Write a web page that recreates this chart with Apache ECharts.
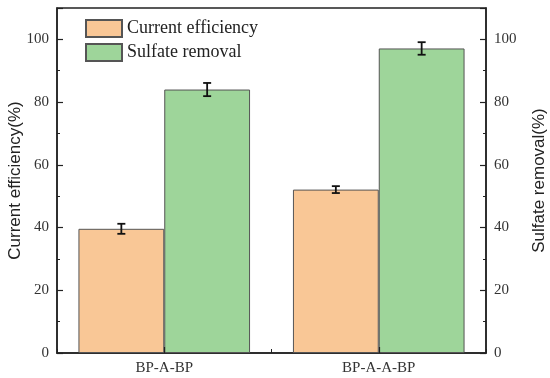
<!DOCTYPE html>
<html><head><meta charset="utf-8">
<script src="https://cdn.jsdelivr.net/npm/echarts@6/dist/echarts.min.js"></script>
<style>html,body{margin:0;padding:0;background:#fff}#c{width:550px;height:378px}</style>
</head><body><div id="c"></div>
<script>
var categories = ['BP-A-BP', 'BP-A-A-BP'];
var seriesNames = ['Current efficiency', 'Sulfate removal'];
var currentEff = [39.6, 52.1];
var currentErr = [1.6, 1.1];
var sulfate = [84.0, 97.1];
var sulfateErr = [2.1, 2.0];
var yTicks = [0, 20, 40, 60, 80, 100];

var serif = 'Liberation Serif';
var chart = echarts.init(document.getElementById('c'));

function errSeries(vals, errs, idx) {
  return {
    type: 'custom',
    xAxisIndex: 0, yAxisIndex: 0,
    silent: true,
    z: 10,
    data: vals.map(function (v, i) { return [i, v - errs[i], v + errs[i]]; }),
    renderItem: function (params, api) {
      var cat = api.value(0);
      var lo = api.coord([cat, api.value(1)]);
      var hi = api.coord([cat, api.value(2)]);
      var bw = api.size([1, 0])[0] * 0.8 / 2;
      var x = lo[0] + (idx === 0 ? -bw / 2 : bw / 2);
      var cap = 4;
      var st = { stroke: '#111', lineWidth: 1.8 };
      return { type: 'group', children: [
        { type: 'line', shape: { x1: x, y1: lo[1], x2: x, y2: hi[1] }, style: st },
        { type: 'line', shape: { x1: x - cap, y1: lo[1], x2: x + cap, y2: lo[1] }, style: st },
        { type: 'line', shape: { x1: x - cap, y1: hi[1], x2: x + cap, y2: hi[1] }, style: st }
      ]};
    }
  };
}

var yAxisCommon = {
  type: 'value', min: 0, max: 110, interval: 20,
  axisLine: { show: true, lineStyle: { color: '#222', width: 1.5 } },
  axisTick: { show: true, inside: true, length: 6, lineStyle: { color: '#222', width: 1.2 } },
  minorTick: { show: true, splitNumber: 2, length: 3, lineStyle: { color: '#222' } },
  splitLine: { show: false },
  axisLabel: { fontFamily: serif, fontSize: 15, color: '#333', margin: 8, showMaxLabel: false,
    formatter: function (v) { return yTicks.indexOf(v) >= 0 ? String(v) : ''; } },
  nameLocation: 'middle',
  nameMoveOverlap: false,
  nameTextStyle: { fontFamily: 'Liberation Sans', fontSize: 17, color: '#222' }
};

chart.setOption({
  animation: false,
  grid: { left: 57, right: 64, top: 8, bottom: 25, show: true, borderColor: '#222', borderWidth: 1.5,
    containLabel: false, outerBoundsMode: 'none' },
  legend: {
    orient: 'vertical', left: 80, top: 14, itemWidth: 36, itemHeight: 17, itemGap: 5, icon: 'rect',
    textStyle: { fontFamily: serif, fontSize: 18, color: '#222' },
    data: seriesNames
  },
  xAxis: [
    { type: 'category', data: categories, position: 'bottom',
      axisLine: { lineStyle: { color: '#222', width: 1.5 } },
      axisTick: { show: true, inside: true, length: 4, lineStyle: { color: '#222' } },
      axisLabel: { fontFamily: serif, fontSize: 15, color: '#333', margin: 8 } },
    { type: 'category', data: categories, position: 'bottom', gridIndex: 0, z: 6,
      axisLine: { show: false },
      axisTick: { show: true, inside: true, alignWithLabel: true, length: 6, lineStyle: { color: '#222', width: 1.2 } },
      axisLabel: { show: false } }
  ],
  yAxis: [
    Object.assign({}, yAxisCommon, { position: 'left', name: 'Current efficiency(%)', nameGap: 33 }),
    Object.assign({}, yAxisCommon, { position: 'right', name: 'Sulfate removal(%)', nameGap: 45, nameRotate: 90 })
  ],
  series: [
    { name: seriesNames[0], type: 'bar', data: currentEff, barGap: '0%', barCategoryGap: '20%',
      itemStyle: { color: '#F9C796', borderColor: '#555', borderWidth: 1 } },
    { name: seriesNames[1], type: 'bar', data: sulfate,
      itemStyle: { color: '#9ED59A', borderColor: '#555', borderWidth: 1 } },
    errSeries(currentEff, currentErr, 0),
    errSeries(sulfate, sulfateErr, 1)
  ]
});
</script></body></html>
